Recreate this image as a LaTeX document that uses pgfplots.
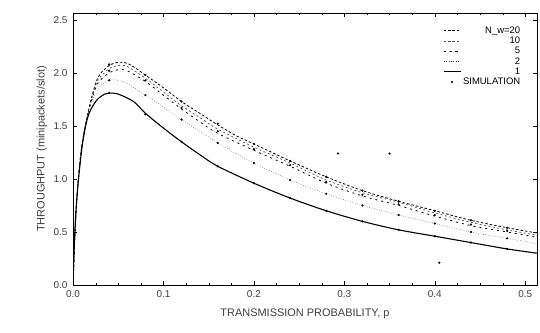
\documentclass[border=0pt]{standalone}
\usepackage{pgfplots}
\pgfplotsset{compat=1.18}
\usepackage{fontspec}
\setmainfont{Liberation Sans}
\begin{document}
\begin{tikzpicture}
\useasboundingbox (-73bp,-48bp) rectangle (467bp,285bp);
\begin{axis}[
  scale only axis, width=464bp, height=272bp,
  xmin=0, xmax=0.513, ymin=0, ymax=2.565,
  xtick={0,0.1,0.2,0.3,0.4,0.5},
  xticklabels={0.0,0.1,0.2,0.3,0.4,0.5},
  ytick={0,0.5,1,1.5,2,2.5},
  yticklabels={0.0,0.5,1.0,1.5,2.0,2.5},
  tick label style={font=\fontsize{10}{11}\selectfont, text=black!75},
  xticklabel style={yshift=-2pt},
  yticklabel style={xshift=-2pt},
  minor x tick num=3,
  tick align=inside, tick style={black}, major tick length=4pt, minor tick length=2pt,
  xlabel={TRANSMISSION PROBABILITY, p},
  ylabel={THROUGHPUT (minipackets/slot)},
  label style={font=\fontsize{11}{12}\selectfont, text=black!75},
  xlabel style={yshift=-4pt},
  ylabel style={yshift=0pt},
  axis line style={black, line width=0.8pt},
  legend style={draw=none, fill=none, at={(0.975,0.965)}, anchor=north east,
    font=\fontsize{9.5}{10}\selectfont, row sep=-1.8pt},
  legend cell align=right,
]
% N=20
\addplot[black, line width=0.8pt, dash pattern=on 2.5pt off 2pt, smooth, tension=0.5] coordinates {
(0,0) (0.002,0.45) (0.005,0.9) (0.01,1.33) (0.018,1.68) (0.025,1.90) (0.03,1.99) (0.04,2.07) (0.05,2.10) (0.06,2.09) (0.07,2.04) (0.08,1.98) (0.1,1.86) (0.12,1.73) (0.14,1.62) (0.16,1.51) (0.18,1.41) (0.2,1.33) (0.24,1.17) (0.28,1.02) (0.32,0.89) (0.36,0.79) (0.40,0.70) (0.44,0.61) (0.48,0.54) (0.513,0.49)};
\addlegendentry{N\_w=20}
% N=10
\addplot[black!70, line width=0.7pt, dash pattern=on 2pt off 2.5pt, smooth, tension=0.5] coordinates {
(0,0) (0.002,0.45) (0.005,0.9) (0.01,1.33) (0.018,1.67) (0.025,1.88) (0.03,1.96) (0.04,2.04) (0.05,2.07) (0.06,2.06) (0.08,1.95) (0.1,1.82) (0.12,1.69) (0.14,1.58) (0.16,1.47) (0.2,1.30) (0.24,1.15) (0.28,0.99) (0.32,0.87) (0.36,0.78) (0.40,0.68) (0.44,0.59) (0.48,0.52) (0.513,0.47)};
\addlegendentry{10}
% N=5
\addplot[black, line width=0.8pt, dash pattern=on 2pt off 4pt, smooth, tension=0.5] coordinates {
(0,0) (0.002,0.45) (0.005,0.9) (0.01,1.33) (0.018,1.66) (0.025,1.86) (0.03,1.93) (0.04,2.00) (0.05,2.03) (0.06,2.02) (0.08,1.92) (0.1,1.79) (0.12,1.66) (0.14,1.54) (0.16,1.43) (0.2,1.27) (0.24,1.12) (0.28,0.96) (0.32,0.84) (0.36,0.75) (0.40,0.65) (0.44,0.56) (0.48,0.50) (0.513,0.45)};
\addlegendentry{5}
% N=2
\addplot[black!80, line width=0.5pt, dotted, smooth, tension=0.5] coordinates {
(0,0) (0.002,0.45) (0.005,0.9) (0.01,1.32) (0.015,1.58) (0.02,1.72) (0.03,1.87) (0.04,1.93) (0.05,1.93) (0.06,1.90) (0.08,1.79) (0.1,1.68) (0.12,1.56) (0.14,1.45) (0.16,1.34) (0.18,1.24) (0.2,1.15) (0.24,0.99) (0.28,0.86) (0.32,0.75) (0.36,0.66) (0.40,0.58) (0.44,0.50) (0.48,0.44) (0.513,0.39)};
\addlegendentry{2}
% N=1
\addplot[black, line width=1.1pt, smooth, tension=0.5] coordinates {
(0,0) (0.002,0.5) (0.005,0.9) (0.01,1.30) (0.015,1.54) (0.02,1.66) (0.027,1.75) (0.035,1.80) (0.04,1.81) (0.05,1.80) (0.067,1.73) (0.08,1.62) (0.1,1.48) (0.12,1.35) (0.14,1.23) (0.16,1.12) (0.2,0.96) (0.24,0.82) (0.28,0.70) (0.32,0.60) (0.36,0.52) (0.40,0.46) (0.44,0.40) (0.48,0.34) (0.513,0.30)};
\addlegendentry{1}
% simulation
\addplot[only marks, mark=*, mark size=0.9pt, black] coordinates {
(0.04,1.81) (0.08,1.61) (0.12,1.35) (0.16,1.12) (0.2,0.96) (0.24,0.82) (0.28,0.70) (0.32,0.60) (0.36,0.52) (0.40,0.46) (0.44,0.40) (0.48,0.34)
(0.04,1.93) (0.08,1.79) (0.12,1.56) (0.16,1.34) (0.2,1.15) (0.24,0.99) (0.28,0.86) (0.32,0.75) (0.36,0.66) (0.40,0.58) (0.44,0.50) (0.48,0.44)
(0.04,2.02) (0.08,1.93) (0.12,1.67) (0.16,1.45) (0.2,1.28) (0.24,1.13) (0.28,0.97) (0.32,0.85) (0.36,0.76) (0.40,0.66) (0.44,0.57) (0.48,0.51)
(0.04,2.08) (0.08,1.98) (0.12,1.73) (0.16,1.52) (0.2,1.33) (0.24,1.17) (0.28,1.02) (0.32,0.89) (0.36,0.79) (0.40,0.70) (0.44,0.61) (0.48,0.54)
(0.293,1.24) (0.35,1.24) (0.405,0.21)};
\addlegendentry{SIMULATION}
\end{axis}
\end{tikzpicture}
\end{document}
